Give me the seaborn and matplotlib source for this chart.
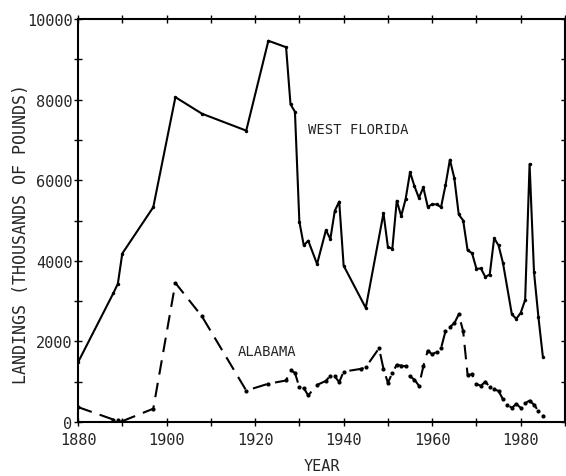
import numpy as np
import pandas as pd
import matplotlib
matplotlib.use('Agg')
import matplotlib.pyplot as plt
import seaborn as sns
from matplotlib.ticker import MultipleLocator

# Landings (thousands of pounds)
wf_years = [1880, 1888, 1889, 1890, 1897, 1902, 1908, 1918, 1923, 1927, 1928, 1929,
            1930, 1931, 1932, 1934, 1936, 1937, 1938, 1939, 1940, 1945, 1949, 1950,
            1951, 1952, 1953, 1954, 1955, 1956, 1957, 1958, 1959, 1960, 1961, 1962,
            1963, 1964, 1965, 1966, 1967, 1968, 1969, 1970, 1971, 1972, 1973, 1974,
            1975, 1976, 1978, 1979, 1980, 1981, 1982, 1983, 1984, 1985]
wf_values = [1480, 3200, 3430, 4180, 5330, 8060, 7650, 7230, 9460, 9300, 7880, 7700,
             4970, 4380, 4500, 3920, 4760, 4540, 5240, 5470, 3880, 2830, 5180, 4340,
             4300, 5490, 5110, 5530, 6200, 5850, 5560, 5820, 5340, 5400, 5400, 5330,
             5870, 6510, 6050, 5150, 5000, 4260, 4190, 3800, 3810, 3600, 3660, 4560,
             4380, 3940, 2670, 2560, 2710, 3030, 6400, 3720, 2600, 1620]

al_years = [1880, 1888, 1889, 1890, 1897, 1902, 1908, 1918, 1923, 1927, 1928, 1929,
            1930, 1931, 1932, 1934, 1936, 1937, 1938, 1939, 1940, 1944, 1945, 1948,
            1949, 1950, 1951, 1952, 1953, 1954, 1955, 1956, 1957, 1958, 1959, 1960,
            1961, 1962, 1963, 1964, 1965, 1966, 1967, 1968, 1969, 1970, 1971, 1972,
            1973, 1974, 1975, 1976, 1977, 1978, 1979, 1980, 1981, 1982, 1983, 1984, 1985]
al_values = [370, 60, 40, 20, 330, 3450, 2620, 780, 950, 1030, 1280, 1220,
             860, 840, 660, 920, 1020, 1150, 1130, 990, 1250, 1320, 1360, 1830,
             1320, 970, 1220, 1420, 1400, 1380, 1130, 1050, 900, 1380, 1770, 1680,
             1740, 1830, 2250, 2360, 2450, 2670, 2250, 1170, 1180, 940, 900, 1000,
             870, 810, 770, 560, 430, 350, 450, 350, 470, 530, 430, 270, 160]

wf = pd.DataFrame({'year': wf_years, 'landings': wf_values})
al = pd.DataFrame({'year': al_years, 'landings': al_values})

sns.set_style('ticks')
plt.rcParams['font.family'] = ['DejaVu Sans Mono', 'DejaVu Sans']

fig = plt.figure(figsize=(5.66, 4.77), dpi=100)
ax = fig.add_axes([78 / 566, 54 / 477, 487 / 566, 403 / 477])

sns.lineplot(data=wf, x='year', y='landings', ax=ax, color='black', linewidth=1.5,
             marker='o', markersize=2.5, markeredgewidth=0)
sns.lineplot(data=al, x='year', y='landings', ax=ax, color='black', linewidth=1.5,
             linestyle=(0, (7, 4)), marker='o', markersize=3, markeredgewidth=0)

ax.set_xlim(1880, 1990)
ax.set_ylim(0, 10000)
ax.xaxis.set_minor_locator(MultipleLocator(10))
ax.yaxis.set_major_locator(MultipleLocator(2000))
ax.yaxis.set_minor_locator(MultipleLocator(1000))
ax.set_xticks([1880, 1900, 1920, 1940, 1960, 1980])
ax.tick_params(which='both', direction='inout', top=True, right=True,
               labeltop=False, labelright=False, width=1, color='black', length=6)
ax.tick_params(axis='y', which='major', labelsize=11, pad=1)
ax.tick_params(axis='x', which='major', labelsize=11, pad=4)
for s in ax.spines.values():
    s.set_linewidth(1.5)
    s.set_color('black')

ax.set_xlabel('YEAR', fontsize=11, labelpad=8)
ax.set_ylabel('LANDINGS (THOUSANDS OF POUNDS)', fontsize=12)
ax.yaxis.set_label_coords(-0.098, 0.47)

ax.text(1932, 7270, 'WEST FLORIDA', fontsize=10, va='center', ha='left')
ax.text(1916, 1760, 'ALABAMA', fontsize=10, va='center', ha='left')

fig.savefig('out.png', dpi=100)
plt.close(fig)
